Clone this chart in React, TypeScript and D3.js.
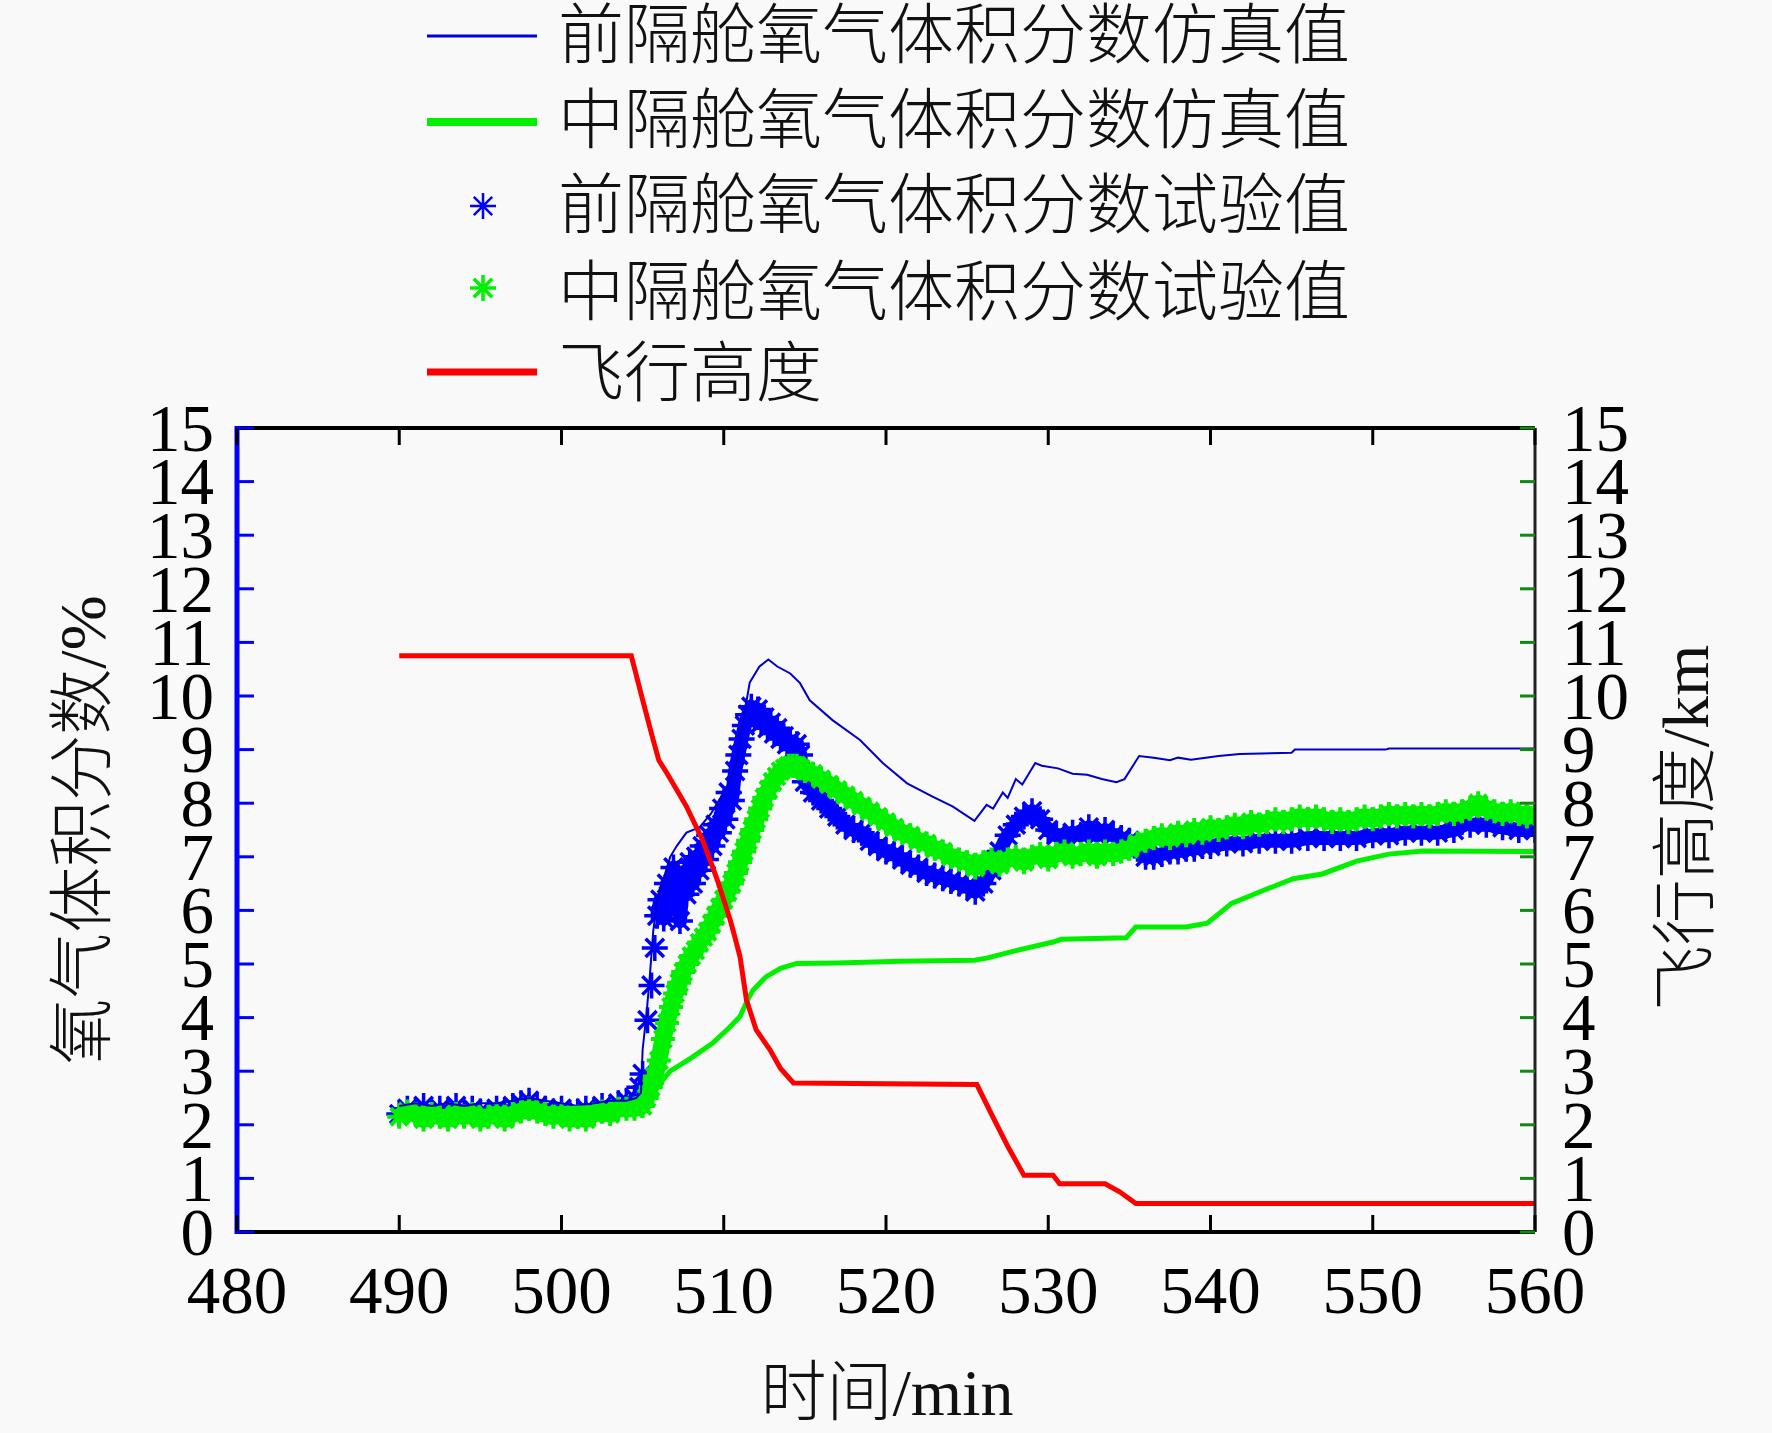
import { useEffect } from 'react';
import * as d3 from 'd3';

// 时间轴刻度与数据
const xTicks = [480, 490, 500, 510, 520, 530, 540, 550, 560];
const yTicks = d3.range(0, 16);

const legendLabels = [
  '前隔舱氧气体积分数仿真值',
  '中隔舱氧气体积分数仿真值',
  '前隔舱氧气体积分数试验值',
  '中隔舱氧气体积分数试验值',
  '飞行高度',
];

// 前隔舱仿真值 [min, %]
const frontSim: [number, number][] = [
  [490, 2.35], [491, 2.4], [492, 2.35], [493, 2.4], [494, 2.35], [495, 2.4], [496, 2.4],
  [497, 2.45], [498, 2.5], [499, 2.45], [500, 2.4], [501, 2.35], [502, 2.4], [503, 2.45],
  [504, 2.45], [504.6, 2.5], [504.9, 2.6], [505.0, 3.4], [505.25, 4.1], [505.45, 4.8],
  [505.65, 5.6], [505.9, 6.2], [506.3, 6.6], [506.7, 7.0], [507.1, 7.2], [507.7, 7.45],
  [508.5, 7.55], [509.2, 7.8], [510.2, 8.3], [510.8, 8.75], [511.1, 9.4], [511.4, 9.9],
  [511.6, 10.25], [512.2, 10.55], [512.75, 10.68], [513.3, 10.55], [514.1, 10.42],
  [514.7, 10.24], [515.3, 9.92], [516.7, 9.55], [518.4, 9.18], [519.8, 8.75], [521.3, 8.37],
  [522.9, 8.12], [524.1, 7.94], [525.45, 7.67], [526.2, 7.97], [526.6, 7.9], [527.2, 8.2],
  [527.5, 8.1], [528.0, 8.45], [528.4, 8.35], [529.2, 8.75], [529.6, 8.7], [530.6, 8.65],
  [531.5, 8.55], [532.4, 8.53], [533.3, 8.45], [534.2, 8.39], [534.7, 8.45], [535.6, 8.88],
  [536.5, 8.85], [537.5, 8.8], [538.0, 8.85], [538.8, 8.81], [540.5, 8.88], [541.8, 8.92],
  [545.0, 8.94], [545.2, 9.0], [550.8, 9.0], [551.0, 9.02], [560, 9.02],
];

// 中隔舱仿真值
const midSim: [number, number][] = [
  [490, 2.25], [495, 2.25], [500, 2.3], [504.8, 2.35], [505.5, 2.5], [506.0, 2.75],
  [506.7, 3.0], [508.0, 3.25], [509.3, 3.52], [510.3, 3.8], [511.0, 4.02], [511.5, 4.35],
  [511.8, 4.51], [512.6, 4.76], [513.5, 4.92], [514.5, 5.01], [517, 5.02], [520.9, 5.05],
  [525.45, 5.07], [526.2, 5.11], [528, 5.25], [530.3, 5.41], [530.8, 5.46], [534.8, 5.49],
  [535.4, 5.69], [538.5, 5.69], [539.8, 5.76], [541.3, 6.13], [543.4, 6.39], [545.1, 6.59],
  [546.9, 6.68], [549.0, 6.92], [551.0, 7.05], [553.1, 7.11], [560, 7.1],
];

// 前隔舱试验值
const frontTest: [number, number][] = [
  [490, 2.2], [490.5, 2.3], [491, 2.25], [491.5, 2.35], [492, 2.2], [492.5, 2.3], [493, 2.25],
  [493.5, 2.35], [494, 2.2], [494.5, 2.3], [495, 2.25], [495.5, 2.2], [496, 2.3], [496.5, 2.25],
  [497, 2.35], [497.5, 2.4], [498, 2.45], [498.5, 2.35], [499, 2.3], [499.5, 2.25], [500, 2.3],
  [500.5, 2.2], [501, 2.25], [501.5, 2.3], [502, 2.25], [502.5, 2.35], [503, 2.3], [503.5, 2.4],
  [504, 2.45], [504.5, 2.5], [504.8, 2.7], [505, 2.95], [505.3, 3.95], [505.55, 4.6],
  [505.75, 5.3], [505.9, 5.9], [506.1, 6.2], [506.3, 5.85], [506.5, 6.5], [506.7, 6.1],
  [506.9, 6.8], [507.1, 6.4], [507.3, 5.8], [507.5, 6.6], [507.7, 6.3], [507.9, 6.9],
  [508.1, 6.5], [508.3, 7.0], [508.5, 6.75], [508.7, 7.2], [508.9, 6.95], [509.1, 7.4],
  [509.3, 7.2], [509.5, 7.6], [509.7, 7.45], [509.9, 7.9], [510.1, 7.7], [510.3, 8.2],
  [510.5, 8.05], [510.7, 8.6], [510.9, 8.9], [511.1, 9.2], [511.3, 9.45], [511.5, 9.65],
  [511.7, 9.8], [511.9, 9.6], [512.1, 9.75], [512.3, 9.5], [512.5, 9.6], [512.7, 9.4],
  [512.9, 9.5], [513.1, 9.3], [513.3, 9.4], [513.5, 9.2], [513.7, 9.25], [513.9, 9.1],
  [514.1, 9.15], [514.3, 9.0], [514.5, 9.1], [514.7, 8.9], [515.0, 8.4], [515.5, 8.2],
  [516, 8.05], [516.5, 7.9], [517, 7.75], [517.5, 7.6], [518, 7.5], [518.5, 7.45], [519, 7.3],
  [519.5, 7.2], [520, 7.1], [520.5, 7.05], [521, 6.95], [521.5, 6.85], [522, 6.8], [522.5, 6.7],
  [523, 6.65], [523.5, 6.6], [524, 6.55], [524.5, 6.5], [525, 6.45], [525.5, 6.35], [526, 6.5],
  [526.5, 6.75], [527, 7.1], [527.5, 7.4], [528, 7.6], [528.5, 7.75], [529, 7.85], [529.5, 7.7],
  [530, 7.5], [530.5, 7.4], [531, 7.35], [531.5, 7.45], [532, 7.4], [532.5, 7.55], [533, 7.4],
  [533.5, 7.5], [534, 7.4], [534.5, 7.35], [535, 7.3], [535.5, 7.15], [536, 7.0], [536.5, 7.0],
  [537, 7.05], [537.5, 7.1], [538, 7.1], [538.5, 7.15], [539, 7.15], [539.5, 7.2], [540, 7.2],
  [541, 7.25], [542, 7.25], [543, 7.3], [544, 7.3], [545, 7.3], [546, 7.35], [547, 7.35],
  [548, 7.35], [549, 7.35], [550, 7.4], [551, 7.4], [552, 7.45], [553, 7.45], [554, 7.45],
  [555, 7.5], [555.5, 7.65], [556, 7.6], [557, 7.6], [558, 7.55], [559, 7.5], [560, 7.5],
];

// 中隔舱试验值
const midTest: [number, number][] = [
  [490, 2.15], [490.5, 2.25], [491, 2.2], [491.5, 2.1], [492, 2.2], [492.5, 2.15], [493, 2.1],
  [493.5, 2.2], [494, 2.15], [494.5, 2.2], [495, 2.1], [495.5, 2.15], [496, 2.2], [496.5, 2.1],
  [497, 2.2], [497.5, 2.25], [498, 2.3], [498.5, 2.25], [499, 2.2], [499.5, 2.15], [500, 2.2],
  [500.5, 2.1], [501, 2.15], [501.5, 2.1], [502, 2.2], [502.5, 2.25], [503, 2.2], [503.5, 2.3],
  [504, 2.3], [504.5, 2.3], [505, 2.35], [505.25, 2.5], [505.5, 2.7], [505.75, 2.9], [506, 3.2],
  [506.25, 3.6], [506.5, 3.9], [506.75, 4.2], [507, 4.45], [507.25, 4.65], [507.5, 4.85],
  [507.75, 5.0], [508, 5.15], [508.25, 5.25], [508.5, 5.4], [508.75, 5.5], [509, 5.6],
  [509.25, 5.75], [509.5, 5.9], [509.75, 6.05], [510, 6.2], [510.25, 6.35], [510.5, 6.5],
  [510.75, 6.7], [511, 6.9], [511.25, 7.1], [511.5, 7.3], [511.75, 7.5], [512, 7.7],
  [512.25, 7.9], [512.5, 8.1], [512.75, 8.25], [513, 8.4], [513.25, 8.5], [513.5, 8.6],
  [513.75, 8.65], [514, 8.7], [514.25, 8.7], [514.5, 8.7], [514.75, 8.65], [515, 8.6],
  [515.5, 8.55], [516, 8.45], [516.5, 8.35], [517, 8.25], [517.5, 8.15], [518, 8.05],
  [518.5, 7.95], [519, 7.85], [519.5, 7.75], [520, 7.65], [520.5, 7.55], [521, 7.45],
  [521.5, 7.4], [522, 7.3], [522.5, 7.25], [523, 7.15], [523.5, 7.1], [524, 7.0], [524.5, 6.95],
  [525, 6.9], [525.5, 6.8], [526, 6.9], [526.5, 6.95], [527, 6.85], [527.5, 6.95], [528, 7.0],
  [528.5, 6.9], [529, 7.0], [529.5, 7.05], [530, 6.95], [530.5, 7.05], [531, 7.1], [531.5, 7.0],
  [532, 7.05], [532.5, 7.1], [533, 7.0], [533.5, 7.1], [534, 7.05], [534.5, 7.1], [535, 7.15],
  [535.5, 7.25], [536, 7.3], [536.5, 7.35], [537, 7.4], [537.5, 7.35], [538, 7.45], [538.5, 7.4],
  [539, 7.5], [539.5, 7.45], [540, 7.55], [540.5, 7.5], [541, 7.55], [541.5, 7.6], [542, 7.55],
  [542.5, 7.65], [543, 7.6], [543.5, 7.65], [544, 7.7], [544.5, 7.65], [545, 7.7], [545.5, 7.75],
  [546, 7.7], [546.5, 7.75], [547, 7.7], [547.5, 7.65], [548, 7.7], [548.5, 7.65], [549, 7.7],
  [549.5, 7.75], [550, 7.7], [550.5, 7.75], [551, 7.8], [551.5, 7.75], [552, 7.8], [552.5, 7.75],
  [553, 7.8], [553.5, 7.75], [554, 7.8], [554.5, 7.85], [555, 7.8], [555.5, 7.85], [556, 7.9],
  [556.5, 8.0], [557, 7.9], [557.5, 7.85], [558, 7.8], [558.5, 7.85], [559, 7.8], [559.5, 7.75],
  [560, 7.8],
];

// 飞行高度 [min, km]
const altitude: [number, number][] = [
  [490, 10.75], [504.3, 10.75], [504.6, 10.4], [505.0, 9.93], [505.65, 9.18], [506.0, 8.8],
  [506.5, 8.56], [507.1, 8.25], [507.7, 7.94], [508.7, 7.31], [509.3, 6.82], [509.6, 6.57],
  [510.4, 5.82], [510.6, 5.6], [511.0, 5.14], [511.4, 4.33], [512.0, 3.77], [512.85, 3.4],
  [513.5, 3.05], [514.3, 2.78], [525.6, 2.75], [526.5, 2.2], [527.5, 1.6], [528.5, 1.06],
  [530.3, 1.06], [530.7, 0.9], [533.5, 0.9], [534.4, 0.75], [535.4, 0.53], [560, 0.53],
];

const W = 1772;
const H = 1433;
const plot = { left: 237, right: 1535, top: 428, bottom: 1232 };
const serif = '"Liberation Serif", "Times New Roman", "Noto Sans CJK SC", serif';
const cjk = '"Liberation Serif", "Noto Sans CJK SC", sans-serif';

const BLUE = '#0000ff';
const GREEN = '#00f000';
const RED = '#ff0000';
const DARK_GREEN = '#118811';

function star(r: number) {
  const d = r * 0.707;
  return `M${-r},0H${r}M0,${-r}V${r}M${-d},${-d}L${d},${d}M${-d},${d}L${d},${-d}`;
}

export default function App() {
  useEffect(() => {
    document.body.style.margin = '0';
  }, []);

  const x = d3.scaleLinear().domain([480, 560]).range([plot.left, plot.right]);
  const yL = d3.scaleLinear().domain([0, 15]).range([plot.bottom, plot.top]);
  const yR = d3.scaleLinear().domain([0, 15]).range([plot.bottom, plot.top]);

  const lineL = d3.line<[number, number]>().x(d => x(d[0])).y(d => yL(d[1]));
  const lineR = d3.line<[number, number]>().x(d => x(d[0])).y(d => yR(d[1]));
  // 密集的试验点连成的色带（前隔舱在急升段之后才成片）
  const blueBand = d3.line<[number, number]>()
    .defined(d => d[0] >= 505.9)
    .x(d => x(d[0])).y(d => yL(d[1]));

  const tickLen = 17;
  const legendY = [36, 122, 206, 288, 372];
  const textY = [35, 120, 205, 292, 373];

  return (
    <svg width={W} height={H} style={{ display: 'block', background: '#f9f9f9' }}>
      {/* 图例 */}
      <g>
        <line x1={427} x2={537} y1={legendY[0]} y2={legendY[0]} stroke="#0000dd" strokeWidth={3} />
        <line x1={427} x2={537} y1={legendY[1]} y2={legendY[1]} stroke={GREEN} strokeWidth={8} />
        <path d={star(13)} transform={`translate(483,${legendY[2]})`} stroke={BLUE} strokeWidth={2.5} fill="none" />
        <path d={star(13)} transform={`translate(483,${legendY[3]})`} stroke={GREEN} strokeWidth={3.5} fill="none" />
        <line x1={427} x2={537} y1={legendY[4]} y2={legendY[4]} stroke={RED} strokeWidth={7} />
        {legendLabels.map((t, i) => (
          <text key={t} x={558} y={textY[i]} dominantBaseline="central" fontFamily={cjk}
            fontSize={66} fontWeight={300} fill="#111">{t}</text>
        ))}
      </g>

      {/* 数据 */}
      <g clipPath="url(#clip)">
        <path d={blueBand(frontTest) || ''} fill="none" stroke={BLUE} strokeWidth={14} strokeLinejoin="round" />
        {frontTest.map((d, i) => (
          <path key={'b' + i} d={star(13)} transform={`translate(${x(d[0])},${yL(d[1])})`}
            stroke={BLUE} strokeWidth={3.5} fill="none" />
        ))}
        <path d={lineL(midTest) || ''} fill="none" stroke={GREEN} strokeWidth={17} strokeLinejoin="round" />
        {midTest.map((d, i) => (
          <path key={'g' + i} d={star(12)} transform={`translate(${x(d[0])},${yL(d[1])})`}
            stroke={GREEN} strokeWidth={4} fill="none" />
        ))}
        <path d={lineL(frontSim) || ''} fill="none" stroke="#0000cc" strokeWidth={2} />
        <path d={lineL(midSim) || ''} fill="none" stroke={GREEN} strokeWidth={5} />
        <path d={lineR(altitude) || ''} fill="none" stroke={RED} strokeWidth={5} />
      </g>
      <defs>
        <clipPath id="clip">
          <rect x={plot.left - 20} y={plot.top} width={plot.right - plot.left + 20} height={plot.bottom - plot.top} />
        </clipPath>
      </defs>

      {/* 坐标框 */}
      <line x1={plot.left} x2={plot.right} y1={plot.top} y2={plot.top} stroke="#000" strokeWidth={4} />
      <line x1={plot.left} x2={plot.right} y1={plot.bottom} y2={plot.bottom} stroke="#000" strokeWidth={4} />
      <line x1={plot.right} x2={plot.right} y1={plot.top} y2={plot.bottom} stroke="#222" strokeWidth={3} />
      <line x1={plot.left} x2={plot.left} y1={plot.top - 2} y2={plot.bottom + 2} stroke={BLUE} strokeWidth={5} />

      {/* x 轴刻度 */}
      {xTicks.map(t => (
        <g key={'x' + t}>
          <line x1={x(t)} x2={x(t)} y1={plot.bottom} y2={plot.bottom - tickLen} stroke="#000" strokeWidth={3} />
          <line x1={x(t)} x2={x(t)} y1={plot.top} y2={plot.top + tickLen} stroke="#000" strokeWidth={3} />
          <text x={x(t)} y={1313} textAnchor="middle" fontFamily={serif} fontSize={67} fill="#000">{t}</text>
        </g>
      ))}

      {/* 左 y 轴 */}
      {yTicks.map(t => (
        <g key={'yl' + t}>
          <line x1={plot.left} x2={plot.left + tickLen} y1={yL(t)} y2={yL(t)} stroke={BLUE} strokeWidth={3} />
          <text x={214} y={yL(t)} dy="0.34em" textAnchor="end" fontFamily={serif} fontSize={67} fill="#000">{t}</text>
        </g>
      ))}

      {/* 右 y 轴 */}
      {yTicks.map(t => (
        <g key={'yr' + t}>
          <line x1={plot.right} x2={plot.right - 15} y1={yR(t)} y2={yR(t)} stroke={DARK_GREEN} strokeWidth={3} />
          <text x={1562} y={yR(t)} dy="0.34em" textAnchor="start" fontFamily={serif} fontSize={67} fill="#000">{t}</text>
        </g>
      ))}

      {/* 轴标题 */}
      <text transform="translate(82,830) rotate(-90)" textAnchor="middle" dominantBaseline="central"
        fontFamily={cjk} fontSize={66} fontWeight={300} fill="#111">氧气体积分数/%</text>
      <text transform="translate(1685,828) rotate(-90)" textAnchor="middle" dominantBaseline="central"
        fontFamily={cjk} fontSize={66} fontWeight={300} fill="#111">飞行高度/km</text>
      <text x={887} y={1392} textAnchor="middle" dominantBaseline="central"
        fontFamily={cjk} fontSize={66} fontWeight={300} fill="#111">时间/min</text>
    </svg>
  );
}
